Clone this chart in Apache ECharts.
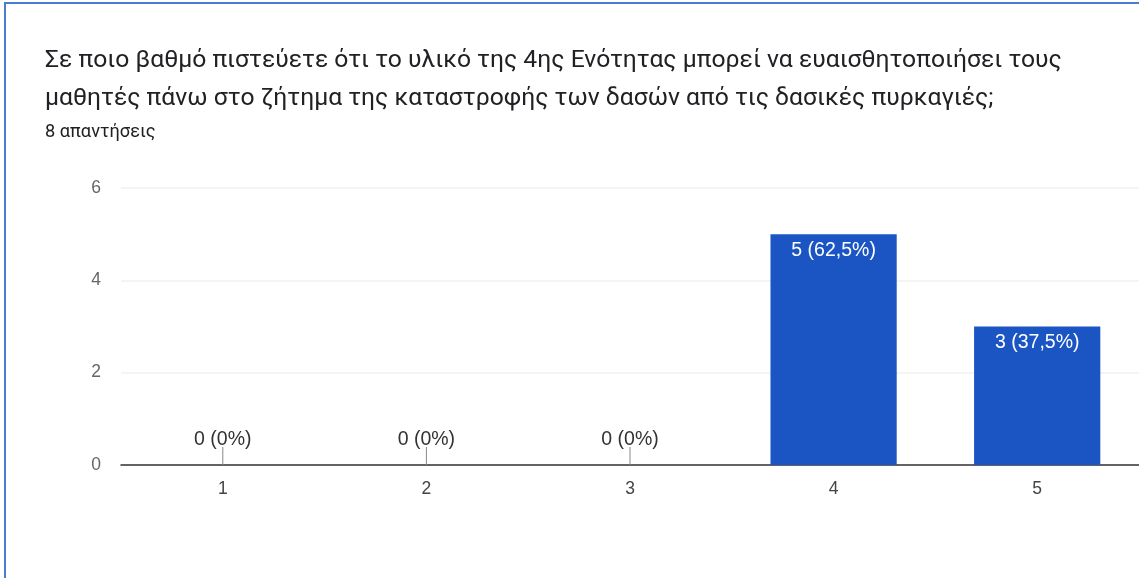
<!DOCTYPE html>
<html>
<head>
<meta charset="utf-8">
<script src="https://cdn.jsdelivr.net/npm/echarts@6/dist/echarts.min.js"></script>
<style>
html,body{margin:0;padding:0;background:#fff;}
#chart{width:1139px;height:578px;}
</style>
</head>
<body>
<div id="chart"></div>
<script>
const titleLines = [
  'Σε ποιο βαθμό πιστεύετε ότι το υλικό της 4ης Ενότητας μπορεί να ευαισθητοποιήσει τους',
  'μαθητές πάνω στο ζήτημα της καταστροφής των δασών από τις δασικές πυρκαγιές;'
];
const subtitle = '8 απαντήσεις';
const categories = ['1', '2', '3', '4', '5'];
const counts = [0, 0, 0, 5, 3];
const percents = ['0%', '0%', '0%', '62,5%', '37,5%'];
const yTicks = [0, 2, 4, 6];

const chartFont = '"Liberation Sans", Arial, sans-serif';
const titleFont = 'Roboto, "Liberation Sans", sans-serif';
const barColor = '#1b55c4';

const chart = echarts.init(document.getElementById('chart'), null, {renderer: 'canvas'});

const barData = counts.map((v, i) => ({
  value: v,
  label: v > 0
    ? {position: 'insideTop', distance: 6, color: '#ffffff'}
    : {position: 'top', distance: 15, color: '#333333'}
}));

chart.setOption({
  animation: false,
  backgroundColor: '#ffffff',
  title: {
    text: titleLines.join('\n'),
    subtext: subtitle,
    left: 40,
    top: 37,
    itemGap: 4,
    textStyle: {fontFamily: titleFont, fontSize: 24.7, fontWeight: 'normal', color: '#202124', lineHeight: 38},
    subtextStyle: {fontFamily: titleFont, fontSize: 18.2, color: '#202124', lineHeight: 20}
  },
  graphic: [{
    type: 'rect',
    silent: true,
    shape: {x: 5, y: 3, width: 1300, height: 800},
    style: {fill: 'none', stroke: '#4a7dd2', lineWidth: 2}
  }],
  grid: {left: 121, right: -1, top: 188, bottom: 113, containLabel: false},
  xAxis: {
    type: 'category',
    data: categories,
    axisLine: {show: true, lineStyle: {color: '#333333', width: 1.5}},
    axisTick: {show: false},
    axisLabel: {fontFamily: chartFont, fontSize: 17.5, color: '#444444', margin: 15}
  },
  yAxis: {
    type: 'value',
    min: yTicks[0],
    max: yTicks[yTicks.length - 1],
    interval: yTicks[1] - yTicks[0],
    axisLine: {show: false},
    axisTick: {show: false},
    axisLabel: {fontFamily: chartFont, fontSize: 17.5, color: '#666666', margin: 20},
    splitLine: {lineStyle: {color: '#f0f0f0', width: 1.5}}
  },
  series: [{
    type: 'bar',
    data: barData,
    barWidth: '62%',
    itemStyle: {color: barColor},
    label: {
      show: true,
      fontFamily: chartFont,
      fontSize: 19.5,
      formatter: p => counts[p.dataIndex] + ' (' + percents[p.dataIndex] + ')'
    }
  }, {
    type: 'custom',
    silent: true,
    data: counts.map((v, i) => [i, v]),
    renderItem: function (params, api) {
      if (api.value(1) !== 0) return null;
      const p = api.coord([api.value(0), 0]);
      return {
        type: 'line',
        shape: {x1: p[0], y1: p[1] - 18, x2: p[0], y2: p[1]},
        style: {stroke: '#888888', lineWidth: 1}
      };
    },
    z: 3
  }]
});
</script>
</body>
</html>
